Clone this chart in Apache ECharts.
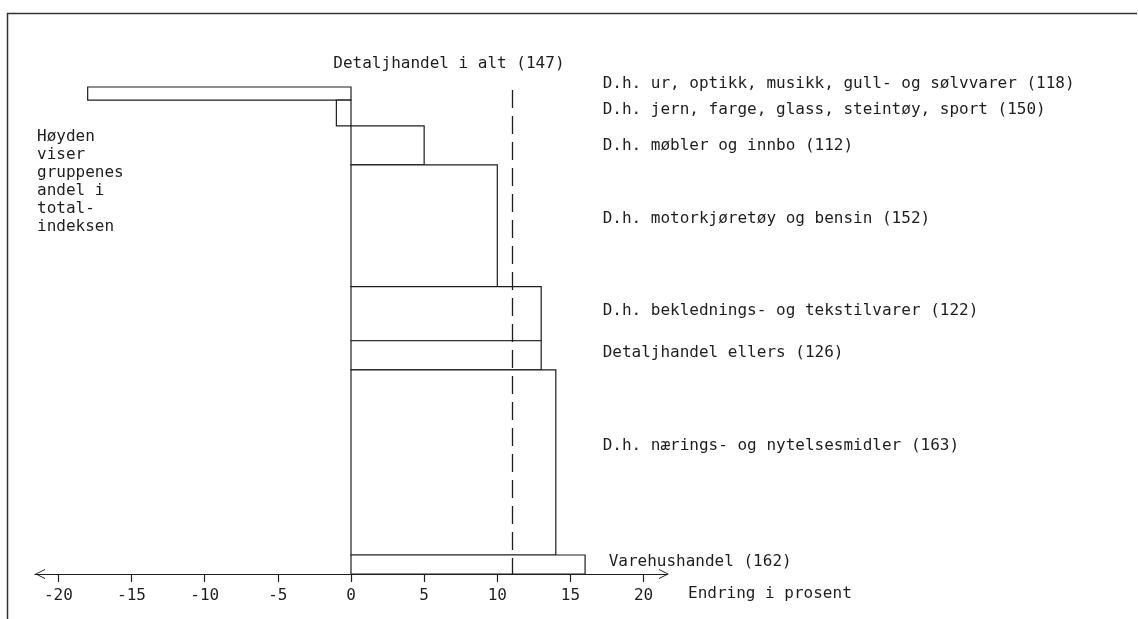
<!DOCTYPE html>
<html>
<head>
<meta charset="utf-8">
<script src="https://cdn.jsdelivr.net/npm/echarts@6/dist/echarts.min.js"></script>
<style>
html,body{margin:0;padding:0;background:#fff;}
#chart{width:1138px;height:619px;}
</style>
</head>
<body>
<div id="chart"></div>
<script>
// ---- data ----
const categories = [
  'D.h. ur, optikk, musikk, gull- og sølvvarer (118)',
  'D.h. jern, farge, glass, steintøy, sport (150)',
  'D.h. møbler og innbo (112)',
  'D.h. motorkjøretøy og bensin (152)',
  'D.h. beklednings- og tekstilvarer (122)',
  'Detaljhandel ellers (126)',
  'D.h. nærings- og nytelsesmidler (163)',
  'Varehushandel (162)'
];
const changes = [-18, -1, 5, 10, 13, 13, 14, 16];       // endring i prosent
const shares  = [2.7, 5.3, 8.0, 25.0, 11.1, 6.0, 38.0, 3.9]; // andel i totalindeksen
const totalChange = 11;
const totalLabel = 'Detaljhandel i alt (147)';
const xTicks = [-20, -15, -10, -5, 0, 5, 10, 15, 20];
const axisName = 'Endring i prosent';
const noteText = 'Høyden\nviser\ngruppenes\nandel i\ntotal-\nindeksen';

// ---- style ----
const INK = '#1e1e1e';
const FONT = '16px "DejaVu Sans Mono", monospace';
const LABEL_X = 17.2;   // where the group names start (axis units)
// per-label nudges in pixels [dx, dy] (layout only)
const LABEL_NUDGE = [[0, -10], [0, -3], [0, 0], [0, -7], [0, -3], [0, -2], [0, -17], [6, -3]];

// build [change, start, end, index]
let cum = 0;
const barData = changes.map((c, i) => {
  const s = cum; cum += shares[i];
  return [c, s, cum, i];
});

const ARROW = 'path://M0 12 L6 0 L12 12 L10.9 12 L6 2.2 L1.1 12 Z';

const chart = echarts.init(document.getElementById('chart'));
chart.setOption({
  backgroundColor: '#fff',
  animation: false,
  grid: { left: 35, right: 471, top: 87, bottom: 45, containLabel: false },
  xAxis: {
    type: 'value', min: -21.6, max: 21.6,
    splitLine: { show: false },
    axisLine: {
      show: true, onZero: false,
      lineStyle: { color: INK, width: 1.2 },
      symbol: [ARROW, ARROW],
      symbolSize: [17, 10],
      symbolOffset: [5, -3]
    },
    axisTick: { show: true, inside: false, length: 8, customValues: xTicks, lineStyle: { color: INK, width: 1.2 } },
    axisLabel: { customValues: xTicks, margin: 14, color: INK, fontFamily: 'DejaVu Sans Mono', fontSize: 16 }
  },
  yAxis: {
    type: 'value', min: 0, max: 100, inverse: true, show: false,
    splitLine: { show: false }
  },
  graphic: [
    { type: 'polyline', shape: { points: [[7.5, 619], [7.5, 13.5], [1137, 13.5]] },
      style: { stroke: '#333', lineWidth: 1.5, fill: null }, silent: true },
    { type: 'text', left: 37, top: 128,
      style: { text: noteText, font: FONT, fill: INK, lineHeight: 18 } },
    { type: 'text', left: 688, top: 586,
      style: { text: axisName, font: FONT, fill: INK } }
  ],
  series: [{
    type: 'custom',
    data: barData,
    encode: { x: 0, y: [1, 2] },
    clip: false,
    renderItem: function (params, api) {
      const v = api.value(0), y0 = api.value(1), y1 = api.value(2);
      const idx = api.value(3);
      const a = api.coord([Math.min(v, 0), y0]);
      const b = api.coord([Math.max(v, 0), y1]);
      const lab = api.coord([LABEL_X, (y0 + y1) / 2]);
      const n = LABEL_NUDGE[idx] || [0, 0];
      return {
        type: 'group',
        children: [
          { type: 'rect',
            shape: { x: a[0], y: Math.min(a[1], b[1]), width: b[0] - a[0], height: Math.abs(b[1] - a[1]) },
            style: { fill: '#fff', stroke: INK, lineWidth: 1.2 } },
          { type: 'text', x: lab[0] + n[0], y: lab[1] + n[1],
            style: { text: categories[idx], font: FONT, fill: INK, verticalAlign: 'middle', align: 'left' } }
        ]
      };
    },
    markLine: {
      silent: true,
      symbol: ['none', 'none'],
      lineStyle: { color: INK, width: 1.3, type: [18, 8] },
      label: {
        show: true, position: 'start', formatter: totalLabel,
        color: INK, fontFamily: 'DejaVu Sans Mono', fontSize: 16,
        padding: [0, 126, 0, 0], distance: 18
      },
      data: [[{ coord: [totalChange, 0.6] }, { coord: [totalChange, 100] }]]
    }
  }]
});
</script>
</body>
</html>
